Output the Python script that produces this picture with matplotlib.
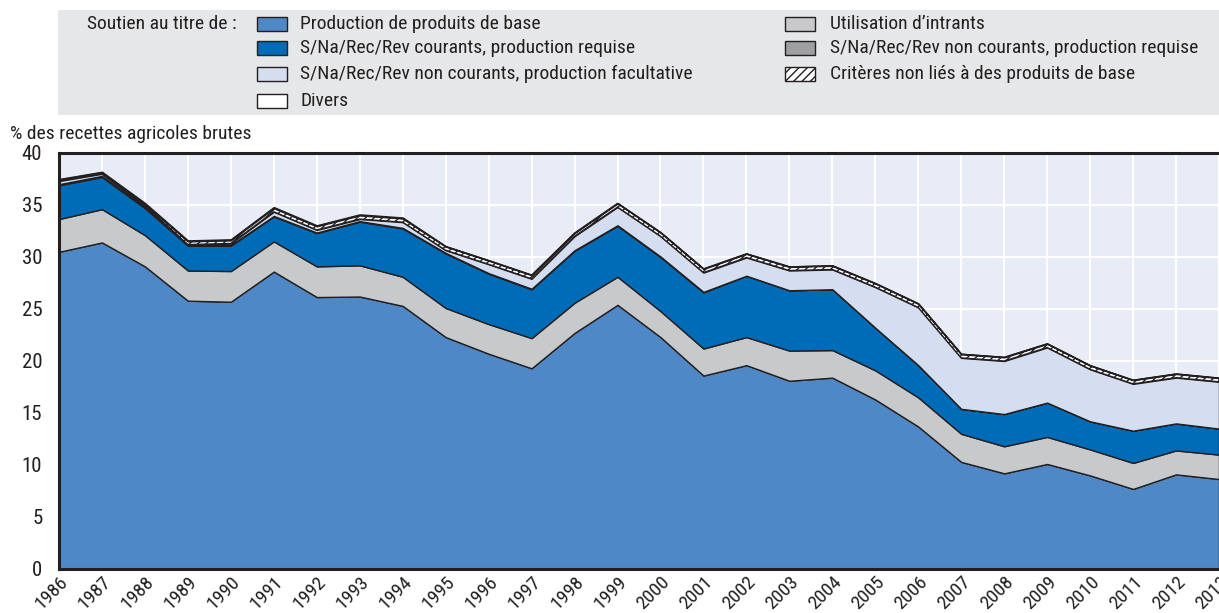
import matplotlib
matplotlib.use("Agg")
import matplotlib.pyplot as plt
from matplotlib.patches import Rectangle
import numpy as np

plt.rcParams['font.family'] = ['Roboto Condensed', 'DejaVu Sans']
plt.rcParams['hatch.linewidth'] = 1.0

years = list(range(1986, 2014))
base = [30.5, 31.4, 29.1, 25.8, 25.7, 28.6, 26.15, 26.2, 25.3, 22.3, 20.7, 19.3, 22.7, 25.4,
        22.3, 18.6, 19.6, 18.1, 18.4, 16.3, 13.7, 10.3, 9.2, 10.1, 9.0, 7.7, 9.1, 8.65]
intrants = [3.15, 3.2, 3.0, 2.9, 2.95, 2.9, 2.95, 3.0, 2.8, 2.8, 2.85, 2.9, 2.9, 2.7,
            2.5, 2.6, 2.7, 2.9, 2.65, 2.8, 2.8, 2.7, 2.6, 2.6, 2.5, 2.5, 2.3, 2.35]
courants_req = [3.25, 3.1, 2.6, 2.4, 2.45, 2.4, 3.2, 4.2, 4.65, 5.25, 4.85, 4.7, 5.0, 4.9,
                5.2, 5.4, 5.9, 5.8, 5.85, 4.1, 3.1, 2.4, 3.1, 3.3, 2.7, 3.1, 2.6, 2.5]
noncour_req = [0.1, 0.1, 0.1, 0.05, 0.05, 0.05, 0.05, 0.05, 0.05, 0.05, 0.05, 0.05, 0.05, 0.05,
               0.05, 0.05, 0.0, 0.0, 0.0, 0.0, 0.0, 0.0, 0.0, 0.0, 0.0, 0.0, 0.0, 0.0]
noncour_fac = [0.3, 0.2, 0.15, 0.05, 0.15, 0.4, 0.25, 0.2, 0.55, 0.25, 0.85, 0.95, 1.35, 1.75,
               1.95, 1.85, 1.75, 1.9, 1.9, 3.9, 5.55, 4.9, 5.1, 5.3, 5.0, 4.5, 4.4, 4.5]
criteres = [0.1, 0.1, 0.15, 0.3, 0.3, 0.35, 0.35, 0.35, 0.35, 0.35, 0.35, 0.35, 0.3, 0.35,
            0.35, 0.35, 0.35, 0.35, 0.35, 0.35, 0.35, 0.35, 0.35, 0.35, 0.35, 0.35, 0.35, 0.35]
divers = [0.1, 0.1, 0.1, 0.1, 0.1, 0.1, 0.1, 0.1, 0.1, 0.05, 0.05, 0.05, 0.05, 0.05,
          0.05, 0.05, 0.05, 0.05, 0.05, 0.05, 0.05, 0.05, 0.05, 0.05, 0.05, 0.05, 0.05, 0.05]

labels = ["Production de produits de base", "Utilisation d\u2019intrants",
          "S/Na/Rec/Rev courants, production requise",
          "S/Na/Rec/Rev non courants, production requise",
          "S/Na/Rec/Rev non courants, production facultative",
          "Crit\u00e8res non li\u00e9s \u00e0 des produits de base", "Divers"]
colors = ["#4F88C6", "#C8C9CB", "#006CB7", "#9D9FA2", "#D4DEF0", "white", "white"]
hatches = [None, None, None, None, None, "////", None]
series = [base, intrants, courants_req, noncour_req, noncour_fac, criteres, divers]

W, H = 1219, 613
fig = plt.figure(figsize=(W / 100, H / 100), dpi=100)
ax = fig.add_axes([59 / W, (H - 569) / H, (1219 - 59) / W, (569 - 153) / H])
ax.set_facecolor("#E8ECF7")

x = np.array(years)
bottom = np.zeros(len(years))
edge = "#231F20"
for vals, c, h in zip(series, colors, hatches):
    top = bottom + np.array(vals)
    ax.fill_between(x, bottom, top, facecolor=c, edgecolor=edge, linewidth=1.0,
                    hatch=h, zorder=3)
    bottom = top

ax.set_xlim(1986, 2013)
ax.set_ylim(0, 40)
ax.set_xticks(years)
ax.set_yticks(range(0, 41, 5))
ax.set_xticklabels([str(y) for y in years], rotation=45, ha="right", va="top",
                   rotation_mode="anchor", fontsize=14, color="#231F20")
ax.set_yticklabels([str(v) for v in range(0, 41, 5)], fontsize=15, color="#231F20")
ax.tick_params(axis="both", direction="in", color="white", length=6, width=1.2)
ax.tick_params(axis="y", pad=12)
ax.tick_params(axis="x", pad=3)
for t in ax.get_xticklines() + ax.get_yticklines():
    t.set_zorder(5)
ax.grid(True, color="white", linewidth=1.5, zorder=1)
ax.set_axisbelow(True)
for s in ["left", "bottom", "top"]:
    ax.spines[s].set_color(edge)
    ax.spines[s].set_linewidth(2.2)
    ax.spines[s].set_zorder(6)
ax.spines["right"].set_visible(False)

fig.text(10 / W, 1 - 134 / H, "% des recettes agricoles brutes", fontsize=14,
         color="#231F20", ha="left", va="center")

# Legend box
fig.add_artist(Rectangle((58 / W, 1 - 115 / H), (W - 58) / W, 105 / H,
                         transform=fig.transFigure, facecolor="#E6E7E8",
                         edgecolor="none", zorder=0))
fig.text(87 / W, 1 - 24 / H, "Soutien au titre de :", fontsize=14, color="#231F20",
         ha="left", va="center")

order_col1 = [0, 2, 4, 6]
order_col2 = [1, 3, 5]
rows_y = [24, 48, 74, 101]
for col, idxs, px, tx in [(0, order_col1, 257, 300), (1, order_col2, 785, 830)]:
    for r, i in enumerate(idxs):
        yc = rows_y[r]
        fig.add_artist(Rectangle((px / W, 1 - (yc + 7) / H), 30 / W, 14 / H,
                                 transform=fig.transFigure, facecolor=colors[i],
                                 edgecolor=edge, linewidth=1.0, hatch=hatches[i]))
        fig.text(tx / W, 1 - yc / H, labels[i], fontsize=14, color="#231F20",
                 ha="left", va="center")

fig.savefig("out.png", dpi=100)
